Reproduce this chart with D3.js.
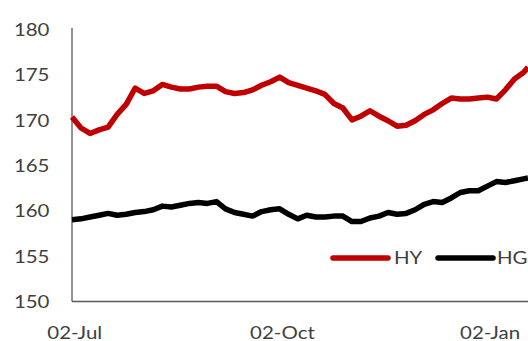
<!DOCTYPE html>
<html>
<head>
<meta charset="utf-8">
<script src="https://cdn.jsdelivr.net/npm/d3@7"></script>
<style>
  html, body { margin: 0; padding: 0; background: #fff; }
  svg { display: block; }
  text { font-family: Lato, "Open Sans", sans-serif; fill: #404040; }
</style>
</head>
<body>
<svg id="chart" width="528" height="341"></svg>
<script>
// Sample dates (every four days) and the two index series
const dates = [
  "2018-07-01","2018-07-05","2018-07-09","2018-07-13","2018-07-17","2018-07-21","2018-07-25","2018-07-29",
  "2018-08-02","2018-08-06","2018-08-10","2018-08-14","2018-08-18","2018-08-22","2018-08-26","2018-08-30",
  "2018-09-03","2018-09-07","2018-09-11","2018-09-15","2018-09-19","2018-09-23","2018-09-27","2018-10-01",
  "2018-10-05","2018-10-09","2018-10-13","2018-10-17","2018-10-21","2018-10-25","2018-10-29","2018-11-02",
  "2018-11-06","2018-11-10","2018-11-14","2018-11-18","2018-11-22","2018-11-26","2018-11-30","2018-12-04",
  "2018-12-08","2018-12-12","2018-12-16","2018-12-20","2018-12-24","2018-12-28","2019-01-01","2019-01-05",
  "2019-01-09","2019-01-13","2019-01-17","2019-01-19"
];
const hy = [
  170.3,169.1,168.5,168.9,169.2,170.6,171.7,173.5,
  172.9,173.2,173.9,173.6,173.4,173.4,173.6,173.7,
  173.7,173.1,172.9,173.0,173.3,173.8,174.2,174.7,
  174.1,173.8,173.5,173.2,172.8,171.8,171.3,170.0,
  170.4,171.0,170.4,169.9,169.3,169.4,169.9,170.6,
  171.1,171.8,172.4,172.3,172.3,172.4,172.5,172.3,
  173.3,174.5,175.2,175.8
];
const hg = [
  159.0,159.1,159.3,159.5,159.7,159.5,159.6,159.8,
  159.9,160.1,160.5,160.4,160.6,160.8,160.9,160.8,
  161.0,160.2,159.8,159.6,159.4,159.9,160.1,160.2,
  159.6,159.1,159.5,159.3,159.3,159.4,159.4,158.8,
  158.8,159.2,159.4,159.8,159.6,159.7,160.1,160.7,
  161.0,160.9,161.4,162.0,162.2,162.2,162.7,163.2,
  163.1,163.3,163.5,163.6
];
const yTicks = [150, 155, 160, 165, 170, 175, 180];
const xTickLabels = ["2018-07-02", "2018-10-02", "2019-01-02"];

const seriesNames = ["HY", "HG"];
const seriesColors = ["#c00000", "#000000"];

const parse = d3.timeParse("%Y-%m-%d");
const dateObjs = dates.map(parse);

const svg = d3.select("#chart");
const plot = { left: 72, right: 528, top: 29, bottom: 301.5 };
const textScale = 1.17;

const x = d3.scaleTime()
  .domain(d3.extent(dateObjs))
  .range([plot.left, plot.right]);
const y = d3.scaleLinear()
  .domain([150, 180])
  .range([plot.bottom, plot.top]);

// Y axis: labels only, domain drawn as a vertical rule
const yAxis = svg.append("g")
  .attr("transform", `translate(${plot.left},0)`)
  .call(d3.axisLeft(y).tickValues(yTicks).tickSize(0).tickFormat(d3.format("d")));
yAxis.select(".domain").remove();
yAxis.selectAll("text")
  .attr("x", 0).attr("dy", "0.36em")
  .attr("transform", `translate(-22.5,0) scale(${textScale},1)`)
  .style("font-size", "17.5px")
  .style("fill", "#404040");

// X axis labels
const xAxis = svg.append("g")
  .attr("transform", `translate(0,${plot.bottom})`)
  .call(d3.axisBottom(x).tickValues(xTickLabels.map(parse)).tickSize(0).tickFormat(d3.timeFormat("%d-%b")));
xAxis.select(".domain").remove();
xAxis.selectAll("text")
  .attr("y", 0).attr("dy", 0)
  .attr("transform", `translate(0,37) scale(${textScale},1)`)
  .style("font-size", "17.5px")
  .style("fill", "#404040");

// Axis rules
svg.append("line")
  .attr("x1", plot.left).attr("x2", plot.left)
  .attr("y1", plot.top - 1).attr("y2", plot.bottom)
  .attr("stroke", "#595959").attr("stroke-width", 1.3);
svg.append("line")
  .attr("x1", plot.left).attr("x2", plot.right)
  .attr("y1", plot.bottom).attr("y2", plot.bottom)
  .attr("stroke", "#595959").attr("stroke-width", 1.3);

// Series lines
const line = d3.line()
  .x((d, i) => x(dateObjs[i]))
  .y(d => y(d));

[hy, hg].forEach((vals, k) => {
  svg.append("path")
    .datum(vals)
    .attr("d", line)
    .attr("fill", "none")
    .attr("stroke", seriesColors[k])
    .attr("stroke-width", 5.5)
    .attr("stroke-linejoin", "round");
});

// Legend
const legend = svg.append("g").attr("transform", "translate(333,258)");
const legendSlots = [0, 105];
seriesNames.forEach((name, k) => {
  const g = legend.append("g").attr("transform", `translate(${legendSlots[k]},0)`);
  g.append("line")
    .attr("x1", 0).attr("x2", 55)
    .attr("y1", 0).attr("y2", 0)
    .attr("stroke", seriesColors[k])
    .attr("stroke-width", 5.5)
    .attr("stroke-linecap", "round");
  g.append("text")
    .attr("transform", `translate(${k === 0 ? 61 : 59},0) scale(${textScale},1)`)
    .attr("dy", "0.36em")
    .style("font-size", "17.5px")
    .text(name);
});
</script>
</body>
</html>
